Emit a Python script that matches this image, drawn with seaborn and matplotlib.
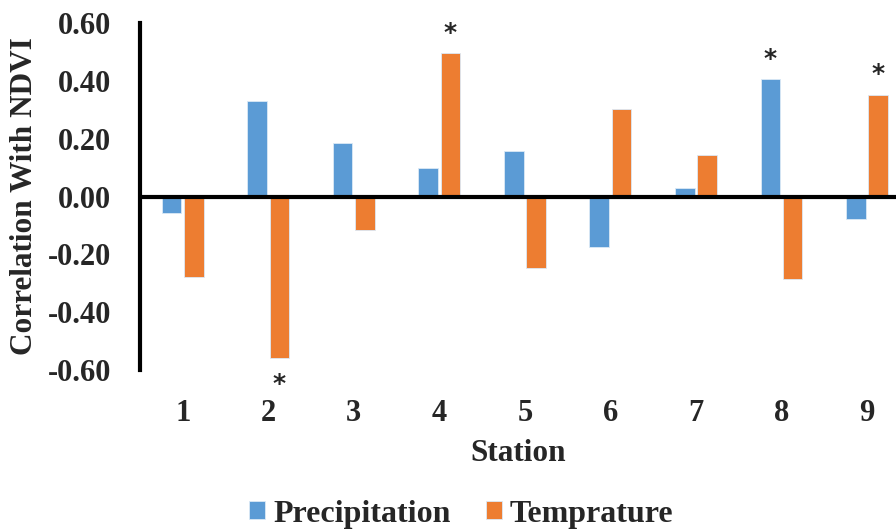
import matplotlib
matplotlib.use("Agg")
import matplotlib.pyplot as plt
import seaborn as sns
import pandas as pd

# values
stations = ["1", "2", "3", "4", "5", "6", "7", "8", "9"]
precipitation = [-0.058, 0.329, 0.184, 0.100, 0.158, -0.176, 0.031, 0.406, -0.077]
temprature = [-0.277, -0.560, -0.115, 0.496, -0.246, 0.303, 0.144, -0.285, 0.352]
series_names = ["Precipitation", "Temprature"]
colors = ["#5B9BD5", "#ED7D31"]
y_ticks = [-0.6, -0.4, -0.2, 0.0, 0.2, 0.4, 0.6]
# significant bars: (series index, station index)
significant = [(1, 1), (1, 3), (0, 7), (1, 8)]

df = pd.DataFrame({
    "Station": stations * 2,
    "value": precipitation + temprature,
    "series": [series_names[0]] * len(stations) + [series_names[1]] * len(stations),
})

sns.set_style("white")
plt.rcParams["font.family"] = ["Liberation Serif", "DejaVu Serif"]
plt.rcParams["font.weight"] = "bold"

fig = plt.figure(figsize=(8.96, 5.30), dpi=100)
ax = fig.add_axes([140 / 896, 160 / 530, 756 / 896, 347 / 530])

sns.barplot(data=df, x="Station", y="value", hue="series", palette=colors,
            saturation=1, width=0.52, gap=0.12, edgecolor="#dbe9f6",
            linewidth=0.6, ax=ax)

ax.set_xlim(-0.5, 8.34)
ax.set_ylim(-0.6, 0.6)
ax.set_yticks(y_ticks)
ax.set_yticklabels([f"{t:.2f}" for t in y_ticks])
ax.axhline(0, color="black", linewidth=3, zorder=5)

for side in ["top", "right", "bottom"]:
    ax.spines[side].set_visible(False)
ax.spines["left"].set_linewidth(3)
ax.spines["left"].set_color("black")

ax.tick_params(axis="y", length=0, pad=21, labelsize=22)
ax.tick_params(axis="x", length=0, pad=21, labelsize=22)
for lab in ax.get_xticklabels() + ax.get_yticklabels():
    lab.set_fontweight("bold")

ax.set_xlabel("Station", fontsize=22.5, fontweight="bold", labelpad=8)
ax.set_ylabel("Correlation With NDVI", fontsize=22.5, fontweight="bold", labelpad=6)

# significance asterisks
for s, i in significant:
    bar = ax.containers[s][i]
    x = bar.get_x() + bar.get_width() / 2
    val = precipitation[i] if s == 0 else temprature[i]
    off = 6 if val > 0 else -27
    ax.annotate("*", xy=(x, val), xytext=(0, off), textcoords="offset points",
                ha="center", va="bottom", fontsize=18, fontweight="bold",
                family="DejaVu Sans", annotation_clip=False)

handles, labels = ax.get_legend_handles_labels()
ax.legend_.remove()
fig.legend(handles, labels, loc="center", bbox_to_anchor=(0.515, 0.03), ncol=2,
           frameon=False, prop={"size": 23, "weight": "bold"},
           handlelength=0.5, handleheight=0.5, handletextpad=0.25,
           columnspacing=1.1)

fig.savefig("out.png", dpi=100)
